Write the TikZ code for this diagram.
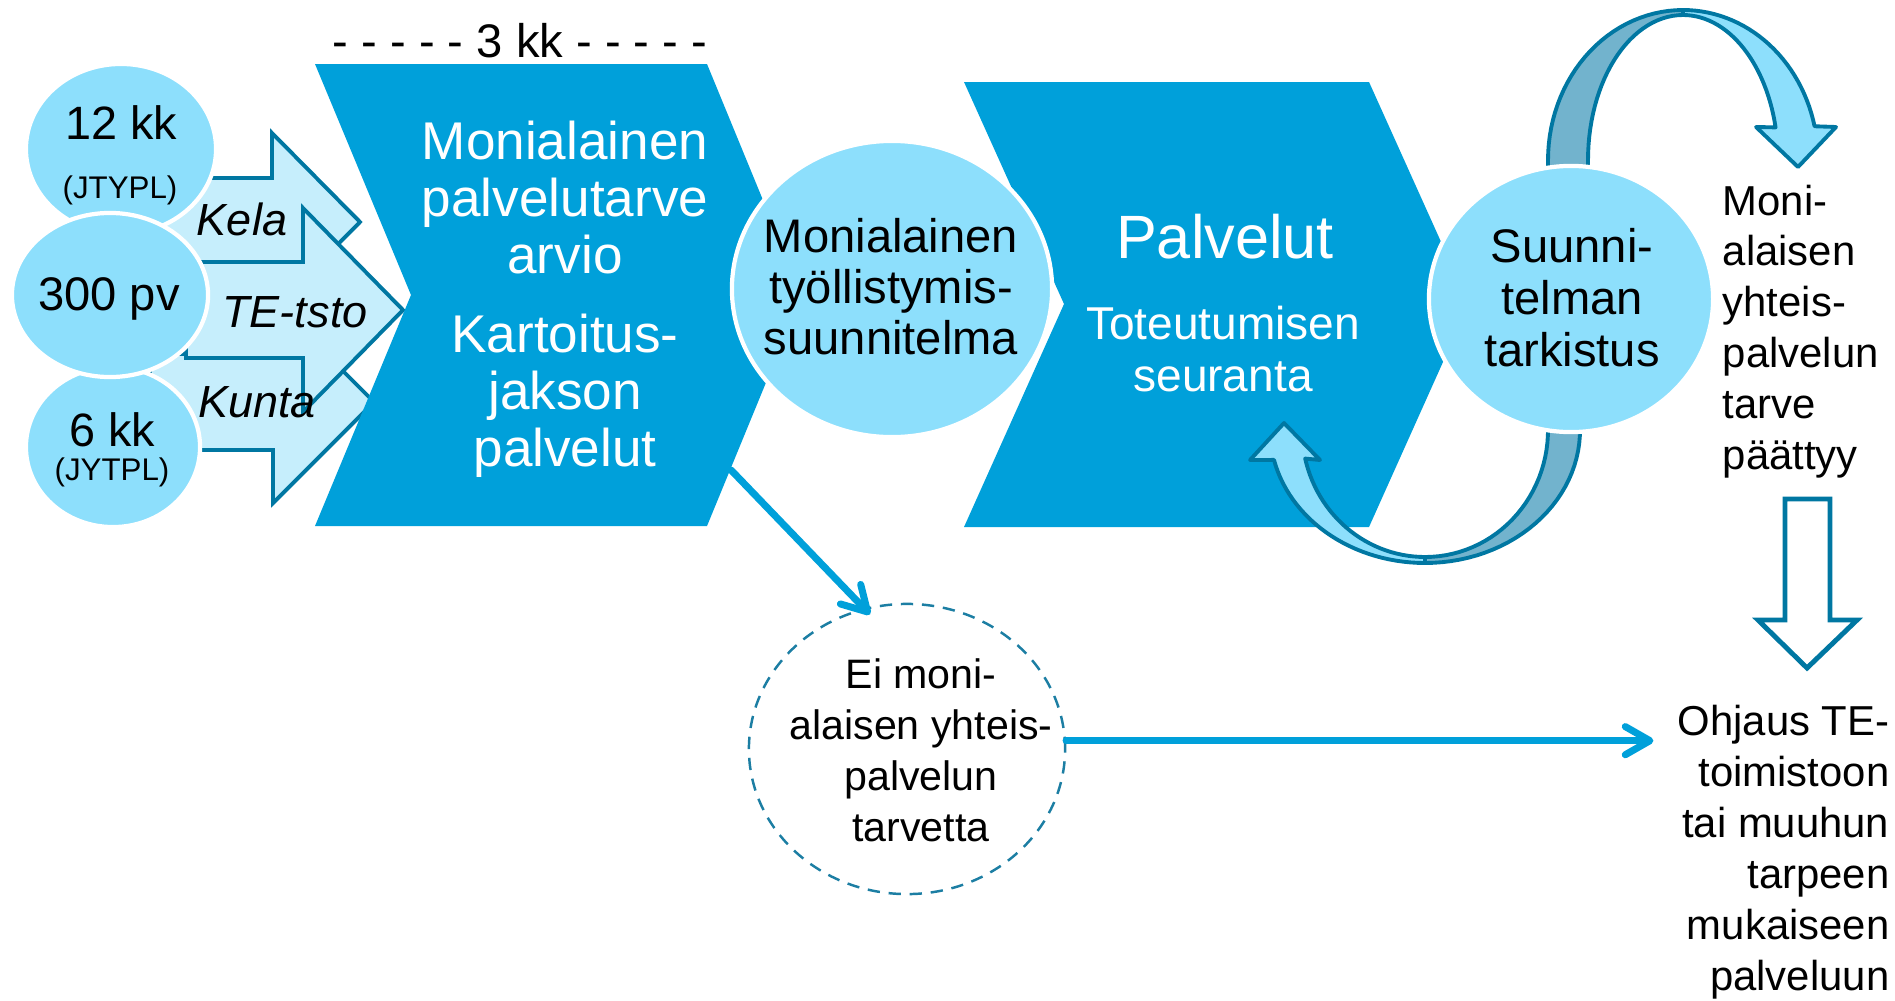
\documentclass[tikz,border=0pt]{standalone}
\usepackage{fontspec}
\setmainfont{Liberation Sans}
\usetikzlibrary{positioning,arrows.meta,shapes.geometric}
\definecolor{chevblue}{HTML}{00A0DA}
\definecolor{bubblue}{HTML}{8DDFFC}
\definecolor{arrfill}{HTML}{C6EEFC}
\definecolor{edgeblue}{HTML}{0077A2}
\definecolor{ribdark}{HTML}{72B3CD}
\definecolor{dashblue}{HTML}{1C7EA3}
\tikzset{
  chev/.style = {fill=chevblue},
  bubble/.style = {ellipse, fill=bubblue, draw=white, line width=1.2pt,
    inner sep=0pt},
  inarrow/.style = {fill=arrfill, draw=edgeblue, line width=1.1pt},
  ribbon/.style = {draw=edgeblue, line width=1.1pt, line join=round},
  hollow/.style = {fill=white, draw=edgeblue, line width=1.4pt},
  wtxt/.style = {white, align=center, inner sep=0pt},
  btxt/.style = {black, align=center, inner sep=0pt},
  dashring/.style = {ellipse, draw=dashblue, line width=0.7pt,
    dash pattern=on 3.5pt off 2.5pt, inner sep=0pt},
  conn/.style = {draw=chevblue, line width=2pt, line cap=round,
    -{Straight Barb[length=7pt,width=8pt,round]}}
}

\begin{document}
\begin{tikzpicture}[x=0.01cm, y=-0.01cm]
\useasboundingbox (0,0) rectangle (1895,1000);
% entry arrows
\draw[inarrow] (150,178) -- (272,178) -- (272,133) -- (360,222)
  -- (272,311) -- (272,266) -- (150,266) -- cycle;
\draw[inarrow] (150,354) -- (273,354) -- (273,301) -- (374,402)
  -- (273,503) -- (273,450) -- (150,450) -- cycle;
\draw[inarrow] (186,262) -- (303,262) -- (303,208) -- (403,310)
  -- (303,412) -- (303,358) -- (186,358) -- cycle;
\node (kela) [font=\fontsize{12.8}{15}\selectfont\itshape, anchor=base] at (242,235) {Kela};
\node (tetsto) [font=\fontsize{12.8}{15}\selectfont\itshape, anchor=base] at (295,327) {TE-tsto};
\node (kunta) [font=\fontsize{12.8}{15}\selectfont\itshape, anchor=base] at (257,417) {Kunta};
%
\node (k12) [bubble, minimum width=1.9cm, minimum height=1.7cm] at (121,149) {};
\node (k6) [bubble, minimum width=1.74cm, minimum height=1.6cm] at (113,447) {};
\node (pv300) [bubble, minimum width=1.96cm, minimum height=1.64cm] at (110,295) {};
\node (k12a) [font=\fontsize{13.3}{16}\selectfont, anchor=base] at (121,139) {12 kk};
\node (k12b) [font=\fontsize{8.9}{11}\selectfont, anchor=base] at (120,198) {(JTYPL)};
\node (pvtxt) [font=\fontsize{13.4}{16}\selectfont, anchor=base] at (109,310) {300 pv};
\node (k6a) [font=\fontsize{13.3}{16}\selectfont, anchor=base] at (112,446) {6 kk};
\node (k6b) [font=\fontsize{8.9}{11}\selectfont, anchor=base] at (112,480) {(JYTPL)};
%
% chevrons
\fill[chev] (315,64) -- (707,64) -- (802,295) -- (707,526) -- (315,526)
  -- (411,295) -- cycle;
\fill[chev] (964,82) -- (1369,82) -- (1469,304) -- (1369,527) -- (964,527)
  -- (1064,304) -- cycle;
\node (kk3) [font=\fontsize{13.4}{16}\selectfont, anchor=base] at (520,57) {- - - - - 3 kk - - - - -};
\node (arvio) [wtxt, anchor=north, font=\fontsize{15.1}{16.2}\selectfont] at (565,120)
  {Monialainen\\palvelutarve\\arvio\\[6.3pt]Kartoitus-\\jakson\\palvelut};
\node (tyo) [bubble, minimum width=3.2cm, minimum height=2.96cm] at (892,289) {};
\node (tyotxt) [btxt, anchor=north, font=\fontsize{13.4}{14.4}\selectfont] at (891,218)
  {Monialainen\\työllistymis-\\suunnitelma};
\node (palv) [wtxt, anchor=base, font=\fontsize{17.4}{20}\selectfont] at (1225,258) {Palvelut};
\node (seur) [wtxt, anchor=north, font=\fontsize{13.1}{14.8}\selectfont] at (1223,305)
  {Toteutumisen\\seuranta};
%
% loop arrows round the check
\filldraw[ribbon, fill=ribdark] (1548,185)
  -- plot[domain=180:90, samples=30] ({1683+135*cos(\x)},{160-150*sin(\x)})
  -- plot[domain=90:180, samples=30] ({1683+95*cos(\x)},{160-145*sin(\x)})
  -- (1588,185) -- cycle;
\filldraw[ribbon, fill=bubblue]
  plot[domain=90:13, samples=30] ({1683+135*cos(\x)},{160-150*sin(\x)})
  -- (1836,127) -- (1798,167) -- (1756,127)
  -- plot[domain=13:90, samples=30] ({1683+95*cos(\x)},{160-145*sin(\x)}) -- cycle;
\filldraw[ribbon, fill=ribdark]
  plot[domain=-4:90, samples=30] ({1425+155*cos(\x)},{430+133*sin(\x)})
  -- plot[domain=90:-4, samples=30] ({1425+123*cos(\x)},{430+127*sin(\x)}) -- cycle;
\filldraw[ribbon, fill=bubblue]
  plot[domain=90:167, samples=30] ({1425+155*cos(\x)},{430+133*sin(\x)})
  -- (1250,460) -- (1284,423) -- (1320,460)
  -- plot[domain=167:90, samples=30] ({1425+123*cos(\x)},{430+127*sin(\x)}) -- cycle;
\node (tark) [bubble, minimum width=2.84cm, minimum height=2.66cm] at (1571,299) {};
\node (tarktxt) [btxt, anchor=north, font=\fontsize{13.4}{14.8}\selectfont] at (1572,228)
  {Suunni-\\telman\\tarkistus};
%
% right column
\node (paattyy) [btxt, align=left, anchor=north west, font=\fontsize{11.9}{14.45}\selectfont]
  at (1722,184) {Moni-\\alaisen\\yhteis-\\palvelun\\tarve\\päättyy};
\draw[hollow] (1785,499) -- (1830,499) -- (1830,620) -- (1857,620) -- (1807,668)
  -- (1758,620) -- (1785,620) -- cycle;
\node (ohjaus) [btxt, align=right, anchor=north east, font=\fontsize{11.9}{14.5}\selectfont]
  at (1890,704) {Ohjaus TE-\\toimistoon\\tai muuhun\\tarpeen\\mukaiseen\\palveluun};
%
\node (ei) [dashring, minimum width=3.16cm, minimum height=2.9cm] at (907,749) {};
\node (eitxt) [btxt, anchor=north, font=\fontsize{11.7}{14.5}\selectfont] at (921,658)
  {Ei moni-\\alaisen yhteis-\\palvelun\\tarvetta};
\coordinate (chev1br) at (731,470);
\draw[conn, shorten >=-2.5pt] (chev1br) -- (ei.107);
\draw[conn, shorten >=6.7pt] (ei.3) -- (ohjaus.west |- ei.3);
\end{tikzpicture}
\end{document}
